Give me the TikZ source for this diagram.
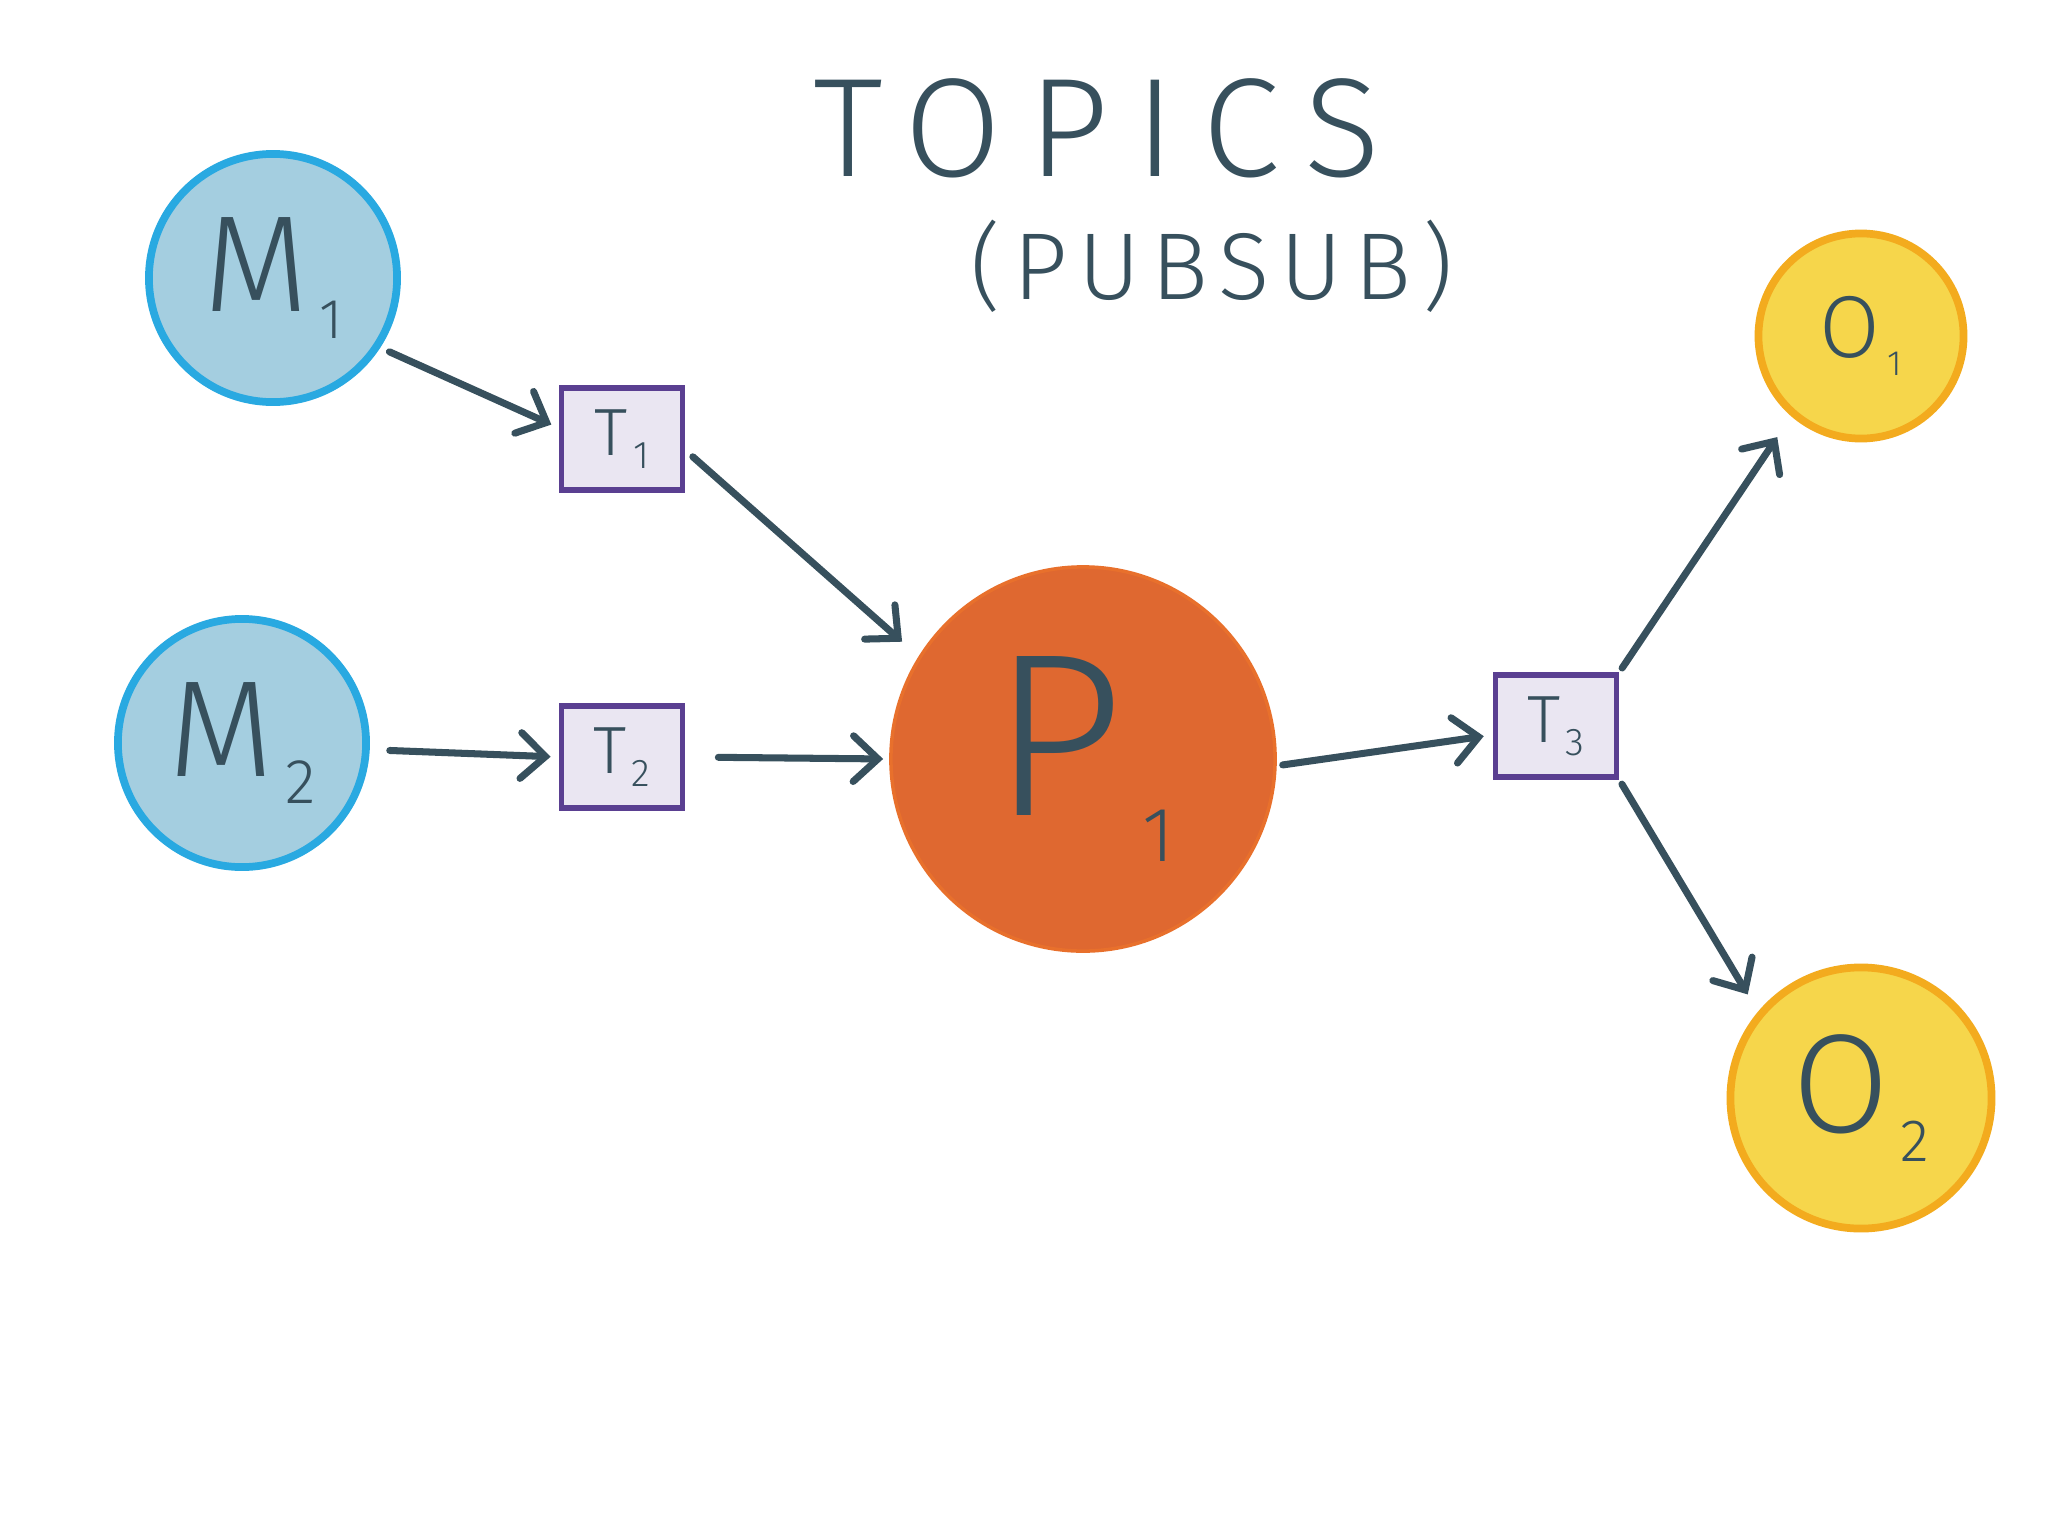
\documentclass[tikz,border=0pt]{standalone}
\usepackage{fontspec}
\setmainfont{Fira Sans}[UprightFont={* Light}]
\usetikzlibrary{arrows.meta}
\definecolor{ink}{HTML}{37505D}
\definecolor{mfill}{HTML}{A4CEE0}
\definecolor{mline}{HTML}{29A9E1}
\definecolor{pfill}{HTML}{DF6830}
\definecolor{pline}{HTML}{E8702C}
\definecolor{ofill}{HTML}{F6D64B}
\definecolor{oline}{HTML}{F3AB1E}
\definecolor{tfill}{HTML}{EAE6F2}
\definecolor{tline}{HTML}{5A3F91}
% label with a lowered index: letter, index, size of letter, size of index
\newcommand{\sublab}[4]{\fontsize{#3}{#3}\selectfont #1\hspace{0.08em}\raisebox{-0.2em}{\fontsize{#4}{#4}\selectfont #2}}

\begin{document}
\begin{tikzpicture}[x=0.01cm,y=-0.01cm,
    producer/.style={circle,draw=mline,fill=mfill,line width=2.2pt,minimum size=2.48cm,text=ink},
    topic/.style={rectangle,draw=tline,fill=tfill,line width=1.6pt,minimum width=1.21cm,minimum height=1.02cm,text=ink},
    proc/.style={circle,draw=pline,fill=pfill,line width=1pt,minimum size=3.84cm,text=ink},
    consumer/.style={circle,draw=oline,fill=ofill,line width=2.2pt,text=ink},
    flow/.style={draw=ink,line width=2pt,line cap=round,-{Straight Barb[length=7pt,width=13pt,line width=2pt,line cap=round]}}]
  \fill[white] (0,0) rectangle (2048,1536);
  \useasboundingbox (0,0) rectangle (2048,1536);
  % title
  \node[text=ink] (title) at (1097,128) {\fontsize{40}{40}\selectfont\addfontfeature{LetterSpace=19}TOPICS};
  \node[text=ink] (subtitle) at (1212,266) {\fontsize{27}{27}\selectfont\addfontfeature{LetterSpace=12}(PUBSUB)};
  % producers, topics, processor, consumers
  \node[producer] (m1) at (273,278) {\sublab{M}{1}{39}{16}};
  \node[producer] (m2) at (242,743) {\sublab{M}{2}{39}{18}};
  \node[topic] (t1) at (622,439) {\sublab{T}{1}{19}{11}};
  \node[topic] (t2) at (622,757) {\sublab{T}{2}{19}{11}};
  \node[proc] (p1) at (1083,759) {\sublab{P}{1}{66}{22}\hspace{0.5cm}};
  \node[topic] (t3) at (1556,726) {\sublab{T}{3}{19}{11}};
  \node[consumer,minimum size=2.05cm] (o1) at (1861,336) {\sublab{O}{1}{25}{10}};
  \node[consumer,minimum size=2.61cm] (o2) at (1861,1098) {\sublab{O}{2}{40}{17}};
  % connectors
  \draw[flow,shorten <=0.1cm,shorten >=0.08cm] (m1.-33) -- (t1.170);
  \draw[flow,shorten <=0.2cm,shorten >=0.08cm] (m2.-3) -- (t2.west);
  \draw[flow,shorten <=0.1cm,shorten >=0.22cm] (t1.-10) -- (p1.148);
  \draw[flow,shorten <=0.33cm,shorten >=0.06cm] (t2.east) -- (p1.west);
  \draw[flow,shorten <=0.06cm,shorten >=0.09cm] (p1.-2) -- (t3.188);
  \draw[flow,shorten <=0.05cm,shorten >=0.25cm] (t3.north east) -- (o1.229);
  \draw[flow,shorten <=0.05cm,shorten >=0.2cm] (t3.south east) -- (o2.140);
\end{tikzpicture}
\end{document}
